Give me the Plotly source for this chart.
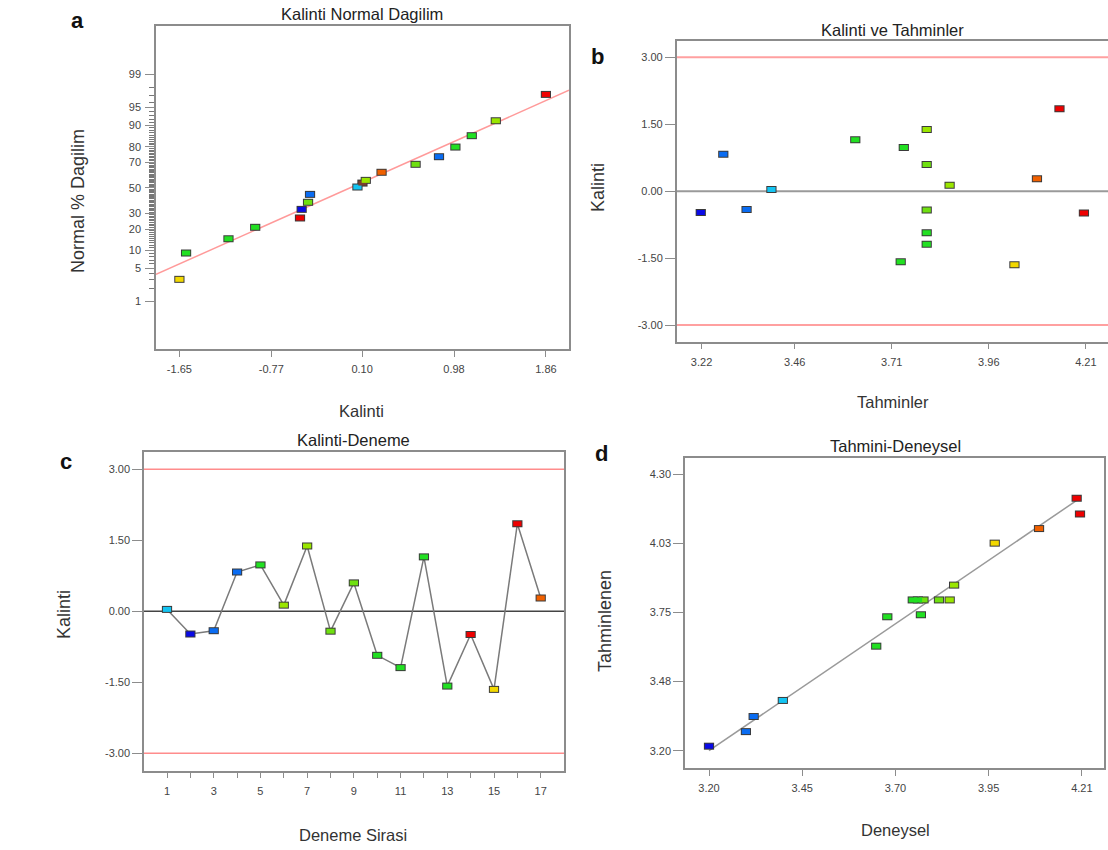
import plotly.graph_objects as go
import numpy as np
from statistics import NormalDist

# ---------------- data ----------------
runs = list(range(1, 18))
residuals = [0.04, -0.48, -0.41, 0.83, 0.98, 0.13, 1.38, -0.42, 0.60, -0.93,
             -1.19, 1.15, -1.58, -0.49, -1.65, 1.85, 0.28]
predicted = [3.40, 3.218, 3.336, 3.276, 3.741, 3.859, 3.80, 3.80, 3.80, 3.80,
             3.80, 3.616, 3.733, 4.205, 4.026, 4.142, 4.084]
actual = [3.40, 3.20, 3.321, 3.30, 3.774, 3.864, 3.852, 3.781, 3.823, 3.766,
          3.752, 3.653, 3.683, 4.196, 3.974, 4.205, 4.094]

CYAN, DBLUE, BLUE, GREEN = "#14c4f2", "#0a0ae6", "#0a6cf2", "#22e022"
YG, YG2, YELLOW, ORANGE, RED, BROWN = "#9ae600", "#6fe010", "#f2d800", "#f06000", "#ee0000", "#7a4030"
run_colors = [CYAN, DBLUE, BLUE, BLUE, GREEN, YG, YG, YG2, YG2, GREEN,
              GREEN, GREEN, GREEN, RED, YELLOW, RED, ORANGE]

# normal probability plot (panel a)
normal_x = [-1.65, -1.586, -1.18, -0.924, -0.495, -0.479, -0.418, -0.399, 0.055,
            0.103, 0.135, 0.286, 0.612, 0.836, 0.993, 1.15, 1.38, 1.86]
normal_pct = [3.07, 9.14, 14.9, 21.0, 26.9, 33.0, 38.4, 44.7, 50.7,
              53.9, 56.1, 62.5, 68.5, 73.8, 79.8, 85.7, 91.5, 97.2]
normal_colors = [YELLOW, GREEN, GREEN, GREEN, RED, DBLUE, YG2, BLUE, CYAN,
                 BROWN, YG, ORANGE, YG2, BLUE, GREEN, GREEN, YG, RED]
normal_line_x = [-1.874, 2.081]
normal_line_pct = [3.85, 97.7]

prob_ticks = [1, 5, 10, 20, 30, 50, 70, 80, 90, 95, 99]
prob_minor = list(range(1, 100))
a_xticks = ["-1.65", "-0.77", "0.10", "0.98", "1.86"]
b_xticks = ["3.22", "3.46", "3.71", "3.96", "4.21"]
res_yticks = ["-3.00", "-1.50", "0.00", "1.50", "3.00"]
c_xticks = list(range(1, 18))
d_xticks = ["3.20", "3.45", "3.70", "3.95", "4.21"]
d_yticks = ["3.20", "3.48", "3.75", "4.03", "4.30"]
limits = [3.0, -3.0]
fit_line = [3.20, 4.20]

# ---------------- helpers ----------------
nd = NormalDist()
def probit(p):
    return nd.inv_cdf(p / 100.0)

W, H = 1108, 850
def px(x):
    return x / W
def py(y):
    return 1 - y / H

FONT = "Liberation Sans, Arial, sans-serif"
AXC = "#8c8c8c"
TICKF = dict(family=FONT, size=11, color="#444444")

def axis(ticklen, **kw):
    d = dict(showline=True, linecolor=AXC, linewidth=1.5, mirror=True,
             ticks="outside", ticklen=ticklen, tickcolor=AXC, tickwidth=1,
             showgrid=False, zeroline=False, tickfont=TICKF, fixedrange=True)
    d.update(kw)
    return d

fig = go.Figure()

def add_markers(x, y, colors, xa, ya):
    # line-ew markers are 1.4*size wide; stroke width gives the height
    fig.add_trace(go.Scatter(x=x, y=y, mode="markers", xaxis=xa, yaxis=ya, showlegend=False,
                             marker=dict(symbol="line-ew", size=7.3, color="#3a3a3a",
                                         line=dict(color="#3a3a3a", width=7))))
    fig.add_trace(go.Scatter(x=x, y=y, mode="markers", xaxis=xa, yaxis=ya, showlegend=False,
                             marker=dict(symbol="line-ew", size=5.9, color=colors,
                                         line=dict(color=colors, width=5))))

# panel a
fig.add_trace(go.Scatter(x=normal_line_x, y=[probit(p) for p in normal_line_pct], mode="lines",
                         xaxis="x", yaxis="y", showlegend=False,
                         line=dict(color="#ff9a9a", width=1.5)))
add_markers(normal_x, [probit(p) for p in normal_pct], normal_colors, "x", "y")

# panel b
add_markers(predicted, residuals, run_colors, "x2", "y2")

# panel c
fig.add_trace(go.Scatter(x=runs, y=residuals, mode="lines", xaxis="x3", yaxis="y3",
                         showlegend=False, line=dict(color="#7a7a7a", width=1.5)))
add_markers(runs, residuals, run_colors, "x3", "y3")

# panel d
fig.add_trace(go.Scatter(x=fit_line, y=fit_line, mode="lines", xaxis="x4", yaxis="y4",
                         showlegend=False, line=dict(color="#9a9a9a", width=1.5)))
add_markers(actual, predicted, run_colors, "x4", "y4")

# reference lines
shapes = []
for lim in limits:
    shapes.append(dict(type="line", xref="x2 domain", yref="y2", x0=0, x1=1, y0=lim, y1=lim,
                       line=dict(color="#ffa0a0", width=2), layer="below"))
    shapes.append(dict(type="line", xref="x3 domain", yref="y3", x0=0, x1=1, y0=lim, y1=lim,
                       line=dict(color="#ff8c8c", width=1.5), layer="below"))
shapes.append(dict(type="line", xref="x2 domain", yref="y2", x0=0, x1=1, y0=0, y1=0,
                   line=dict(color="#9a9a9a", width=2), layer="below"))
shapes.append(dict(type="line", xref="x3 domain", yref="y3", x0=0, x1=1, y0=0, y1=0,
                   line=dict(color="#444444", width=1.5), layer="below"))

a_xvals = [float(t) for t in a_xticks]
b_xvals = [float(t) for t in b_xticks]
res_yvals = [float(t) for t in res_yticks]
d_xvals = list(np.linspace(float(d_xticks[0]), float(d_xticks[-1]), len(d_xticks)))
d_yvals = list(np.linspace(float(d_yticks[0]), float(d_yticks[-1]), len(d_yticks)))

a_yrange = [-3.295, 3.31]
# all probability ticks on the main axis (labels only at the major ones)
a_ytick_pcts = sorted(set(prob_minor) | set(prob_ticks))
a_ytick_text = [str(p) if p in prob_ticks else "" for p in a_ytick_pcts]

fig.update_layout(
    width=W, height=H, margin=dict(l=0, r=0, t=0, b=0),
    paper_bgcolor="white", plot_bgcolor="white",
    font=dict(family=FONT),
    shapes=shapes,
    xaxis=axis(6, domain=[px(156), px(569)], range=[-1.874, 2.081], anchor="y",
               tickmode="array", tickvals=a_xvals, ticktext=a_xticks, ticklabelstandoff=3),
    yaxis=axis(5, domain=[py(349), py(26)], range=a_yrange, anchor="x",
               tickmode="array", tickvals=[probit(p) for p in a_ytick_pcts],
               ticktext=a_ytick_text, ticklabelstandoff=6, tickcolor="#777777"),
    # overlay axis carrying the longer major ticks of panel a
    yaxis5=dict(overlaying="y", anchor="x", side="left", range=a_yrange, showline=False,
                showgrid=False, zeroline=False, ticks="outside", ticklen=10, tickcolor=AXC,
                tickwidth=1, showticklabels=False, tickmode="array", fixedrange=True,
                tickvals=[probit(p) for p in prob_ticks]),
    xaxis2=axis(6, domain=[px(676.7), 1.0], range=[3.156, 4.267], anchor="y2",
                tickmode="array", tickvals=b_xvals, ticktext=b_xticks, ticklabelstandoff=3),
    yaxis2=axis(10, domain=[py(341.7), py(41.3)], range=[-3.374, 3.359], anchor="x2", mirror=False,
                tickmode="array", tickvals=res_yvals, ticktext=res_yticks),
    xaxis3=axis(6, domain=[px(144), px(564.3)], range=[0.015, 18.01], anchor="y3",
                tickmode="array", tickvals=c_xticks,
                ticktext=[str(v) if v % 2 == 1 else "" for v in c_xticks], ticklabelstandoff=3),
    yaxis3=axis(10, domain=[py(770.7), py(451.7)], range=[-3.368, 3.372], anchor="x3",
                tickmode="array", tickvals=res_yvals, ticktext=res_yticks),
    xaxis4=axis(6, domain=[px(685), px(1104)], range=[3.135, 4.27], anchor="y4",
                tickmode="array", tickvals=d_xvals, ticktext=d_xticks, ticklabelstandoff=3),
    yaxis4=axis(10, domain=[py(768.3), py(457.7)], range=[3.13, 4.366], anchor="x4",
                tickmode="array", tickvals=d_yvals, ticktext=d_yticks),
)

# invisible trace so the overlay tick axis is rendered
fig.add_trace(go.Scatter(x=[0], y=[0], xaxis="x", yaxis="y5", mode="markers",
                         marker=dict(opacity=0), showlegend=False, hoverinfo="skip"))

ann = []
def text(t, x, y, size, color="#222222", angle=0, bold=False):
    ann.append(dict(text=("<b>%s</b>" % t) if bold else t, x=px(x), y=py(y), xref="paper", yref="paper",
                    xanchor="center", yanchor="middle", showarrow=False, textangle=angle,
                    font=dict(family=FONT, size=size, color=color)))

# panel letters
text("a", 77, 21, 22, "#111111", bold=True)
text("b", 597.5, 57, 22, "#111111", bold=True)
text("c", 66, 461, 22, "#111111", bold=True)
text("d", 601.7, 453, 22, "#111111", bold=True)
# titles
text("Kalinti Normal Dagilim", 361.7, 14, 16.5)
text("Kalinti ve Tahminler", 892, 30, 16.5)
text("Kalinti-Deneme", 353, 440.5, 16.5)
text("Tahmini-Deneysel", 895, 446, 16.5)
# axis titles
text("Kalinti", 361.7, 411, 16.5, "#333333")
text("Tahminler", 892.5, 402, 16.5, "#333333")
text("Deneme Sirasi", 352.5, 835, 16.5, "#333333")
text("Deneysel", 895, 830, 16.5, "#333333")
text("Normal % Dagilim", 78, 201, 18, "#333333", angle=-90)
text("Kalinti", 598, 188, 18, "#333333", angle=-90)
text("Kalinti", 64, 615, 18, "#333333", angle=-90)
text("Tahminlenen", 605, 621, 18, "#333333", angle=-90)
fig.update_layout(annotations=ann)

fig.write_html("out.html")
